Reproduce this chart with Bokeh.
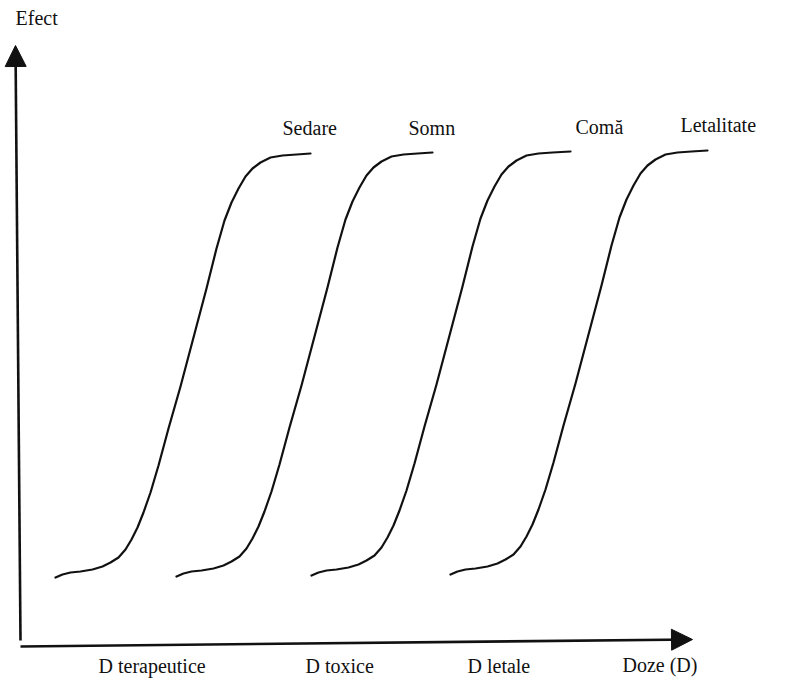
from bokeh.plotting import figure
from bokeh.models import Range1d, Arrow, NormalHead, Label
from bokeh.embed import file_html
from bokeh.resources import INLINE

# Dose-effect curves (arbitrary dose units, arbitrary effect units)
sedare_dose = [35, 42, 50, 60, 72, 82, 90, 98, 105, 111, 117, 123, 130, 138, 148, 160, 173, 186, 196, 204, 211, 218, 225, 232, 240, 250, 262, 276, 290]
sedare_eff = [69, 72, 74, 75, 77, 80, 84, 89, 97, 107, 119, 134, 154, 181, 218, 260, 309, 358, 398, 426, 444, 458, 470, 478, 484, 489, 491, 492, 493]

somn_dose = [156, 163, 171, 181, 193, 203, 211, 219, 226, 232, 238, 244, 251, 259, 269, 281, 294, 307, 317, 325, 332, 339, 346, 353, 361, 371, 383, 397, 412]
somn_eff = [70, 73, 75, 76, 78, 81, 85, 90, 98, 108, 120, 135, 155, 182, 219, 261, 310, 359, 399, 427, 445, 459, 471, 479, 485, 490, 492, 493, 494]

coma_dose = [291, 298, 306, 316, 328, 338, 346, 354, 361, 367, 373, 379, 386, 394, 404, 416, 429, 442, 452, 460, 467, 474, 481, 488, 496, 506, 518, 532, 550]
coma_eff = [71, 74, 76, 77, 79, 82, 86, 91, 99, 109, 121, 136, 156, 183, 220, 262, 311, 360, 400, 428, 446, 460, 472, 480, 486, 491, 493, 494, 495]

letal_dose = [430, 437, 445, 455, 467, 477, 485, 493, 500, 506, 512, 518, 525, 533, 543, 555, 568, 581, 591, 599, 606, 613, 620, 627, 635, 645, 657, 671, 687]
letal_eff = [72, 75, 77, 78, 80, 83, 87, 92, 100, 110, 122, 137, 157, 184, 221, 263, 312, 361, 401, 429, 447, 461, 473, 481, 487, 492, 494, 495, 496]

curve_names = ["Sedare", "Somn", "Comă", "Letalitate"]
dose_zones = ["D terapeutice", "D toxice", "D letale"]
x_title = "Doze (D)"
y_title = "Efect"

FONT = "Liberation Serif"
INK = "#111111"
FS = "20px"

p = figure(width=787, height=680, output_backend="svg", toolbar_location=None,
           x_range=Range1d(-20, 767), y_range=Range1d(-34, 646),
           min_border=0)
p.axis.visible = False
p.grid.visible = False
p.outline_line_color = None
p.background_fill_color = "white"
p.border_fill_color = "white"

for xs, ys in [(sedare_dose, sedare_eff), (somn_dose, somn_eff),
               (coma_dose, coma_eff), (letal_dose, letal_eff)]:
    p.line(xs, ys, line_color=INK, line_width=2.2, line_join="round", line_cap="round")

# axes drawn as arrows
p.add_layout(Arrow(end=NormalHead(size=21, fill_color=INK, line_color=INK, line_width=1),
                   x_start=0, y_start=6, x_end=-5, y_end=601,
                   line_color=INK, line_width=2.6))
p.add_layout(Arrow(end=NormalHead(size=21, fill_color=INK, line_color=INK, line_width=1),
                   x_start=0, y_start=0, x_end=672, y_end=7,
                   line_color=INK, line_width=2.6))

def label(x, y, t):
    p.add_layout(Label(x=x, y=y, text=t, text_font=FONT, text_font_size=FS,
                       text_color=INK, text_baseline="alphabetic", text_align="left"))

# curve labels
curve_label_x = [262, 388, 555, 660]
curve_label_y = [519, 519, 520, 522]
for t, x, y in zip(curve_names, curve_label_x, curve_label_y):
    label(x, y, t)

zone_x = [78, 285, 447]
for t, x in zip(dose_zones, zone_x):
    label(x, -19, t)

label(602, -18, x_title)
label(-5, 629, y_title)

open("out.html", "w").write(file_html(p, INLINE))
